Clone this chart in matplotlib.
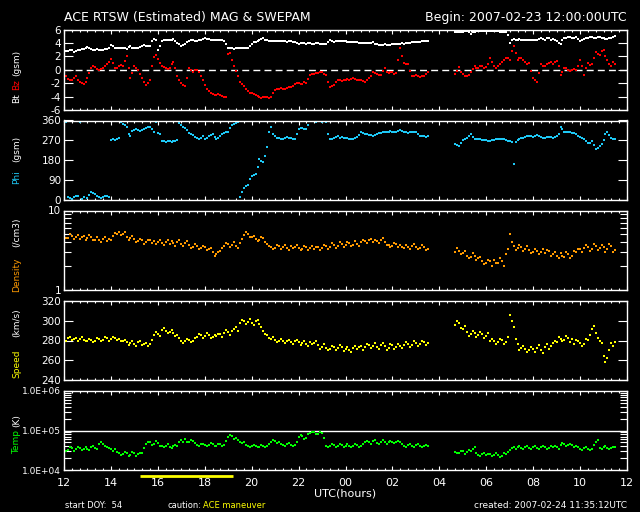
import numpy as np
import matplotlib
matplotlib.use('Agg')
import matplotlib.pyplot as plt
from matplotlib.ticker import MultipleLocator, FixedLocator, FixedFormatter, NullFormatter
import matplotlib.transforms as mtransforms

plt.rcParams['font.family'] = ['DejaVu Sans']
plt.rcParams['axes.unicode_minus'] = False

nan = np.nan

# samples every 10 min from 2007-02-23 12:00 UTC, plus the in-between 5-min samples
hours = np.arange(142) / 6.0
hours_mid = hours + 1 / 12.0

bt = [2.9, 2.8, 2.9, 2.85, 3.0, 3.1, 3.4, 3.1, 3.0, 3.0, 3.0, 3.1,
      3.7, 3.3, 3.2, 3.3, 3.1, 3.5, 3.2, 3.3, 3.6, 3.6, 3.5, 4.6,
      2.9, 4.3, 4.4, 4.5, 4.6, 4.0, 3.6, 3.9, 4.3, 4.4, 4.3, 4.5,
      4.7, 4.6, 4.4, 4.4, 4.5, 4.3, 3.2, 3.2, 3.2, 3.3, 3.3, 3.3,
      3.9, 4.2, 4.4, 4.7, 4.4, 4.3, 4.3, 4.3, 4.3, 4.2, 4.3, 4.2,
      3.9, 4.0, 3.9, 4.0, 3.9, 4.0, 3.8, 3.9, 4.4, 4.2, 4.3, 4.3,
      4.3, 4.15, 4.15, 4.1, 4.0, 4.0, 4.0, 4.1, 3.8, 3.7, 3.8, 3.7,
      3.8, 3.9, 3.9, 3.9, 4.0, 4.1, 4.2, 4.2, 4.25, 4.3, nan, nan,
      nan, nan, nan, nan, 5.7, 5.6, 5.7, 5.8, 5.4, 5.7, 5.8, 5.8,
      5.75, 5.8, 5.8, 5.75, 5.7, 5.6, 4.0, 4.6, 4.5, 4.5, 4.4, 4.5,
      4.5, 4.4, 4.7, 4.5, 4.8, 4.6, 4.3, 3.8, 4.7, 4.9, 4.8, 4.9,
      4.3, 4.6, 4.8, 4.9, 4.8, 4.9, 4.7, 4.6, 4.8, 5.0]
bt_mid = [2.8, 2.95, 2.7, 2.9, 3.05, 3.2, 3.2, 3.0, 3.05, 2.95, 3.05, 3.3,
          3.5, 3.25, 3.3, 3.2, 3.4, 3.3, 3.25, 3.45, 3.65, 3.5, 4.3, 4.5,
          3.6, 4.4, 4.5, 4.4, 4.3, 3.8, 3.7, 4.2, 4.4, 4.35, 4.4, 4.6,
          4.65, 4.5, 4.45, 4.5, 4.4, 3.9, 3.25, 3.15, 3.25, 3.3, 3.25, 3.6,
          4.1, 4.3, 4.6, 4.5, 4.35, 4.3, 4.25, 4.3, 4.25, 4.25, 4.2, 4.0,
          3.95, 3.95, 3.95, 3.9, 4.0, 3.9, 3.85, 4.2, 4.3, 4.25, 4.3, 4.35,
          4.2, 4.1, 4.2, 4.05, 3.95, 4.05, 4.05, 3.9, 3.75, 3.75, 3.75, 3.7,
          3.85, 3.85, 3.95, 3.95, 4.05, 4.15, 4.15, 4.25, 4.3, nan, nan, nan,
          nan, nan, nan, nan, 5.65, 5.7, 5.75, 5.6, 5.6, 5.75, 5.8, 5.75,
          5.8, 5.75, 5.85, 5.7, 5.65, 5.2, 4.4, 4.5, 4.55, 4.45, 4.5, 4.45,
          4.4, 4.6, 4.6, 4.7, 4.5, 4.4, 4.0, 4.4, 4.8, 4.85, 4.75, 4.6,
          4.5, 4.7, 4.85, 4.75, 4.85, 4.8, 4.65, 4.7, 4.9, nan]

bz = [-0.3, -1.4, -1.5, -1.0, -1.8, -2.1, -1.3, 0.3, 0.4, 0.0, 0.2, 0.8,
      1.6, 0.2, 0.5, 0.6, 2.1, -1.2, 0.5, 0.0, -1.3, -2.2, -1.5, 1.9,
      1.6, 0.5, 0.2, 0.3, 1.2, -1.0, -2.0, -2.4, 0.3, -0.3, 0.0, -1.0,
      -2.2, -3.2, -3.6, -3.7, -3.7, -4.0, 2.3, 1.5, -0.2, -1.8, -2.4, -3.2,
      -3.5, -3.7, -4.1, -4.1, -4.1, -4.0, -3.0, -2.8, -2.8, -2.7, -2.6, -2.1,
      -2.0, -2.1, -2.0, -0.8, -0.6, -0.5, -0.3, -0.8, -2.5, -2.3, -1.5, -1.7,
      -1.5, -1.5, -1.3, -1.5, -1.6, -1.8, -1.3, -0.3, -0.7, -0.8, 0.3, -0.5,
      -0.3, -0.5, 3.3, 1.0, 0.8, -0.9, -0.8, -1.1, -0.9, -0.4, nan, nan,
      nan, nan, nan, nan, -0.6, 0.4, -0.7, -1.0, -0.3, 0.5, 0.2, 0.6,
      0.4, 1.8, 0.5, 0.5, 1.2, 1.8, 1.5, 3.5, 1.5, 1.7, 1.1, 1.0,
      -1.3, -1.8, 0.8, 0.5, 1.0, 0.8, 1.3, -0.8, 0.2, 0.0, -0.1, 0.0,
      1.5, -0.8, 1.0, 0.8, 2.6, 2.2, 3.0, 1.5, 0.5, 0.9]
bz_mid = [-0.9, -1.6, -1.2, -1.5, -2.0, -1.9, -0.5, 0.5, 0.1, 0.1, 0.5, 1.2,
          1.0, 0.3, 0.7, 1.3, 0.3, -0.5, 0.3, -0.6, -1.8, -2.0, 0.5, 2.2,
          1.0, 0.4, 0.1, 0.8, 0.2, -1.6, -2.2, -1.2, 0.0, -0.1, -0.4, -1.6,
          -2.8, -3.4, -3.7, -3.6, -3.9, -4.1, 2.5, 0.5, -1.0, -2.1, -2.8, -3.4,
          -3.6, -3.9, -4.2, -4.0, -4.2, -3.5, -2.9, -2.7, -2.9, -2.6, -2.4, -2.0,
          -2.1, -1.9, -1.4, -0.7, -0.5, -0.4, -0.6, -1.8, -2.4, -1.9, -1.6, -1.6,
          -1.4, -1.4, -1.4, -1.6, -1.7, -1.6, -0.9, -0.5, -0.8, -0.2, -0.4, -0.4,
          -0.6, 1.5, 2.0, 0.8, -0.2, -1.0, -0.9, -1.0, -0.7, nan, nan, nan,
          nan, nan, nan, nan, -0.2, -0.3, -0.9, -0.8, 0.1, 0.3, 0.5, 0.3,
          0.9, 1.2, 0.3, 0.8, 1.5, 1.7, 2.8, 2.5, 1.8, 1.4, 0.9, -0.2,
          -1.6, -0.5, 0.6, 0.8, 1.1, 1.1, 0.6, -0.3, 0.3, -0.2, 0.1, 0.5,
          0.5, 0.2, 0.7, 1.8, 2.4, 2.8, 2.0, 0.8, 1.2, nan]

phi = [10, 15, 5, 18, 355, 12, 8, 38, 25, 15, 12, 18,
       270, 272, 280, 345, 330, 290, 315, 318, 316, 328, 332, 310,
       305, 265, 262, 268, 265, 270, 340, 325, 305, 295, 280, 282,
       278, 290, 300, 275, 290, 305, 310, 340, 348, 12, 55, 68,
       110, 120, 185, 170, 240, 330, 290, 280, 278, 285, 280, 275,
       320, 328, 320, 358, 356, 357, 354, 355, 275, 280, 290, 285,
       282, 278, 275, 285, 307, 300, 295, 290, 300, 305, 308, 310,
       310, 308, 315, 308, 305, 310, 307, 292, 288, 290, nan, nan,
       nan, nan, nan, nan, 255, 245, 270, 282, 300, 275, 275, 273,
       270, 268, 272, 277, 277, 272, 265, 165, 270, 280, 285, 290,
       285, 295, 285, 282, 285, 282, 290, 330, 310, 307, 305, 300,
       285, 275, 260, 265, 230, 245, 270, 310, 280, 278]
phi_mid = [355, 8, 12, 20, 3, 358, 22, 30, 20, 10, 20, 14,
           275, 278, 355, 338, 300, 312, 320, 314, 322, 330, 320, 355,
           300, 268, 266, 263, 268, 350, 330, 315, 300, 285, 276, 290,
           282, 295, 285, 282, 300, 308, 325, 345, 355, 35, 62, 95,
           115, 150, 175, 200, 310, 300, 282, 276, 283, 280, 278, 300,
           325, 322, 340, 357, 355, 358, 356, 300, 278, 285, 283, 280,
           280, 276, 280, 295, 303, 298, 293, 296, 303, 306, 309, 312,
           309, 312, 311, 306, 308, 309, 300, 290, 287, nan, nan, nan,
           nan, nan, nan, nan, 250, 258, 276, 290, 285, 275, 274, 272,
           269, 270, 275, 276, 275, 268, 262, 262, 275, 283, 288, 288,
           290, 290, 283, 284, 284, 286, 300, 320, 308, 306, 302, 292,
           280, 268, 258, 250, 236, 255, 300, 295, 276, nan]

density = [4.9, 4.5, 4.8, 4.6, 4.4, 4.8, 4.5, 4.7, 4.3, 4.2, 4.4, 4.1,
           4.3, 5.2, 5.3, 5.0, 4.6, 4.5, 4.4, 4.1, 4.2, 4.0, 4.2, 4.1,
           4.0, 3.9, 4.0, 3.8, 3.9, 4.0, 3.8, 3.9, 3.7, 3.5, 3.6, 3.4,
           3.5, 3.3, 3.0, 2.8, 3.1, 3.6, 3.8, 3.7, 3.6, 3.9, 4.9, 5.1,
           4.6, 4.4, 4.3, 4.5, 3.8, 3.5, 3.4, 3.6, 3.5, 3.4, 3.6, 3.5,
           3.4, 3.3, 3.5, 3.4, 3.3, 3.5, 3.4, 3.6, 3.5, 3.7, 3.6, 3.8,
           3.7, 3.9, 3.7, 3.8, 4.0, 4.1, 4.2, 4.0, 4.1, 4.3, 4.0, 3.7,
           3.6, 3.8, 3.7, 3.4, 3.5, 3.6, 3.5, 3.4, 3.5, 3.3, nan, nan,
           nan, nan, nan, nan, 3.0, 3.1, 2.9, 2.7, 2.6, 2.7, 2.5, 2.3,
           2.2, 2.3, 2.4, 2.2, 2.3, 2.8, 5.0, 3.6, 3.4, 3.5, 3.3, 3.2,
           3.0, 3.1, 3.0, 2.9, 3.1, 2.8, 2.7, 2.9, 2.6, 2.8, 2.7, 3.0,
           3.3, 3.4, 3.5, 3.3, 3.6, 3.4, 3.5, 3.3, 3.6, 3.2]
density_mid = [4.5, 5.0, 4.4, 4.9, 4.7, 4.3, 4.9, 4.2, 4.6, 4.0, 4.6, 4.4,
               4.8, 5.0, 4.9, 5.4, 4.2, 4.8, 4.0, 4.4, 3.8, 4.3, 3.9, 3.8,
               4.2, 3.7, 4.2, 4.1, 3.6, 4.3, 3.6, 4.1, 3.4, 3.8, 3.3, 3.6,
               3.2, 3.4, 2.7, 3.0, 3.4, 3.9, 3.5, 4.0, 3.4, 4.4, 5.4, 4.6,
               4.8, 4.1, 4.7, 4.0, 3.6, 3.3, 3.7, 3.3, 3.7, 3.2, 3.4, 3.7,
               3.2, 3.6, 3.2, 3.6, 3.5, 3.2, 3.7, 3.3, 3.9, 3.4, 4.0, 3.5,
               4.0, 3.6, 4.1, 3.6, 4.3, 3.9, 4.4, 4.2, 3.9, 4.5, 3.7, 3.5,
               3.9, 3.5, 3.5, 3.7, 3.3, 3.8, 3.3, 3.7, 3.2, nan, nan, nan,
               nan, nan, nan, nan, 3.4, 2.8, 3.1, 2.5, 2.9, 2.4, 2.6, 2.1,
               2.4, 2.0, 2.2, 2.5, 2.0, 3.3, 4.0, 3.2, 3.7, 3.1, 3.6, 2.9,
               3.3, 2.8, 3.3, 3.2, 2.7, 3.0, 2.5, 2.7, 3.0, 2.5, 3.1, 3.3,
               3.0, 3.7, 3.1, 3.8, 3.2, 3.7, 3.0, 3.8, 3.0, nan]

speed = [282, 283, 281, 283, 282, 281, 279, 281, 280, 282, 281, 283,
         282, 283, 282, 280, 278, 277, 276, 278, 275, 277, 276, 286,
         287, 291, 290, 289, 288, 286, 280, 279, 281, 280, 284, 286,
         285, 286, 284, 285, 287, 288, 289, 290, 294, 298, 300, 299,
         298, 300, 297, 290, 286, 282, 281, 280, 279, 280, 278, 279,
         278, 277, 276, 278, 277, 275, 273, 272, 271, 273, 272, 273,
         271, 270, 272, 271, 274, 273, 275, 274, 273, 275, 274, 272,
         275, 273, 274, 275, 276, 275, 277, 276, 278, 277, nan, nan,
         nan, nan, nan, nan, 296, 298, 292, 289, 287, 288, 286, 287,
         285, 280, 279, 278, 281, 278, 306, 294, 276, 272, 271, 270,
         271, 272, 270, 273, 271, 277, 278, 282, 281, 283, 282, 281,
         277, 276, 281, 292, 288, 280, 264, 262, 277, 278]
speed_mid = [280, 284, 282, 279, 284, 280, 282, 278, 283, 279, 284, 280,
             284, 281, 279, 281, 275, 279, 274, 280, 276, 274, 281, 289,
             285, 293, 288, 291, 285, 283, 277, 282, 278, 283, 287, 283,
             288, 283, 286, 287, 284, 291, 286, 292, 290, 301, 297, 302,
             296, 301, 294, 287, 283, 284, 278, 282, 277, 281, 276, 281,
             275, 279, 274, 276, 279, 271, 276, 270, 274, 270, 275, 269,
             273, 268, 274, 273, 270, 276, 272, 277, 271, 277, 270, 276,
             271, 276, 272, 278, 273, 279, 274, 280, 275, nan, nan, nan,
             nan, nan, nan, nan, 300, 293, 295, 285, 290, 284, 289, 283,
             288, 282, 276, 282, 276, 284, 300, 282, 270, 274, 268, 273,
             268, 275, 267, 276, 274, 279, 284, 279, 285, 278, 276, 279,
             274, 282, 286, 295, 283, 277, 258, 270, 274, nan]

temp_log10 = [4.54, 4.50, 4.56, 4.52, 4.55, 4.53, 4.54, 4.58, 4.56, 4.67, 4.66, 4.58,
              4.54, 4.52, 4.42, 4.40, 4.44, 4.38, 4.43, 4.41, 4.42, 4.67, 4.70, 4.66,
              4.68, 4.60, 4.62, 4.59, 4.61, 4.60, 4.75, 4.78, 4.72, 4.74, 4.64, 4.65,
              4.63, 4.64, 4.66, 4.62, 4.65, 4.64, 4.83, 4.86, 4.80, 4.71, 4.72, 4.61,
              4.60, 4.62, 4.59, 4.61, 4.62, 4.72, 4.74, 4.70, 4.64, 4.65, 4.63, 4.64,
              4.83, 4.85, 4.82, 4.93, 4.95, 4.92, 4.94, 4.62, 4.60, 4.63, 4.61, 4.64,
              4.62, 4.62, 4.60, 4.63, 4.62, 4.71, 4.70, 4.73, 4.69, 4.72, 4.70, 4.71,
              4.72, 4.70, 4.71, 4.62, 4.64, 4.60, 4.63, 4.61, 4.62, 4.60, nan, nan,
              nan, nan, nan, nan, 4.46, 4.44, 4.48, 4.45, 4.47, 4.58, 4.39, 4.41,
              4.37, 4.40, 4.38, 4.39, 4.36, 4.40, 4.50, 4.57, 4.58, 4.56, 4.57, 4.55,
              4.57, 4.56, 4.58, 4.57, 4.55, 4.58, 4.57, 4.64, 4.65, 4.63, 4.64, 4.62,
              4.54, 4.55, 4.53, 4.54, 4.71, 4.56, 4.57, 4.55, 4.56, 4.57]
temp_log10_mid = [4.48, 4.57, 4.49, 4.58, 4.50, 4.57, 4.51, 4.62, 4.53, 4.70, 4.60, 4.55,
                  4.49, 4.45, 4.37, 4.45, 4.36, 4.46, 4.35, 4.44, 4.55, 4.72, 4.63, 4.74,
                  4.62, 4.58, 4.65, 4.56, 4.64, 4.70, 4.72, 4.70, 4.77, 4.68, 4.61, 4.67,
                  4.60, 4.68, 4.61, 4.66, 4.61, 4.74, 4.89, 4.78, 4.75, 4.68, 4.64, 4.58,
                  4.64, 4.58, 4.63, 4.58, 4.67, 4.76, 4.68, 4.66, 4.61, 4.68, 4.60, 4.72,
                  4.88, 4.79, 4.90, 4.97, 4.90, 4.96, 4.80, 4.58, 4.65, 4.58, 4.66, 4.59,
                  4.65, 4.58, 4.66, 4.59, 4.67, 4.74, 4.67, 4.75, 4.67, 4.75, 4.67, 4.74,
                  4.68, 4.74, 4.66, 4.59, 4.66, 4.57, 4.65, 4.58, 4.64, nan, nan, nan,
                  nan, nan, nan, nan, 4.42, 4.49, 4.41, 4.50, 4.52, 4.43, 4.36, 4.44,
                  4.40, 4.35, 4.42, 4.34, 4.43, 4.45, 4.55, 4.53, 4.61, 4.53, 4.60, 4.52,
                  4.60, 4.53, 4.61, 4.54, 4.60, 4.62, 4.53, 4.68, 4.60, 4.67, 4.59, 4.57,
                  4.50, 4.58, 4.50, 4.64, 4.76, 4.53, 4.60, 4.52, 4.59, nan]
temp = 10.0 ** np.array(temp_log10)
temp_mid = 10.0 ** np.array(temp_log10_mid)

x_ticks = list(range(0, 25, 2))
x_labels = ['12', '14', '16', '18', '20', '22', '00', '02', '04', '06', '08', '10', '12']
maneuver = [3.25, 7.2]   # hours, yellow bar under the axis

fig = plt.figure(figsize=(6.4, 5.12), dpi=100, facecolor='black')
W, H = 640.0, 512.0
left, right = 64, 627
panels = [(29.5, 110), (120.5, 200), (210.5, 290), (301, 380), (391, 470)]

axes = []
for top, bot in panels:
    ax = fig.add_axes([left / W, 1 - bot / H, (right - left) / W, (bot - top) / H])
    ax.set_facecolor('black')
    for s in ax.spines.values():
        s.set_color('white')
        s.set_linewidth(1.0)
    ax.set_xlim(0, 24)
    ax.xaxis.set_major_locator(FixedLocator(x_ticks))
    ax.xaxis.set_minor_locator(MultipleLocator(1 / 3))
    ax.tick_params(axis='both', which='both', direction='in', colors='white',
                   top=True, right=True, labelsize=7.5, width=0.8)
    ax.tick_params(axis='x', which='major', length=3.0, labelbottom=False)
    ax.tick_params(axis='x', which='minor', length=1.5)
    ax.tick_params(axis='y', which='major', length=6.3, pad=2)
    ax.tick_params(axis='y', which='minor', length=5.0)
    axes.append(ax)

ax1, ax2, ax3, ax4, ax5 = axes
mk = dict(ls='none', marker='s', ms=1.6, mew=0)


def dots(ax, a, b, color):
    ax.plot(hours, a, color=color, **mk)
    ax.plot(hours_mid, b, color=color, **mk)


# Bt / Bz
ax1.axhline(0, color='white', lw=1.0, dashes=(5, 3))
dots(ax1, bt, bt_mid, 'white')
dots(ax1, bz, bz_mid, '#ff0000')
ax1.set_ylim(-6, 6)
ax1.yaxis.set_major_locator(MultipleLocator(2))

# Phi
dots(ax2, phi, phi_mid, '#1ec8f5')
ax2.set_ylim(0, 360)
ax2.yaxis.set_major_locator(FixedLocator([0, 90, 180, 270, 360]))

# Density
ax3.set_yscale('log')
dots(ax3, density, density_mid, '#ff9a00')
ax3.set_ylim(1, 10)
ax3.yaxis.set_major_locator(FixedLocator([1, 10]))
ax3.yaxis.set_major_formatter(FixedFormatter(['1', '10']))
ax3.yaxis.set_minor_locator(FixedLocator(list(range(2, 10))))
ax3.yaxis.set_minor_formatter(NullFormatter())

# Speed
dots(ax4, speed, speed_mid, '#ffff00')
ax4.set_ylim(240, 320)
ax4.yaxis.set_major_locator(MultipleLocator(20))

# Temp
ax5.set_yscale('log')
ax5.axhline(1e5, color='white', lw=1.0)
dots(ax5, temp, temp_mid, '#00ff00')
ax5.set_ylim(1e4, 1e6)
ax5.yaxis.set_major_locator(FixedLocator([1e4, 1e5, 1e6]))
ax5.yaxis.set_major_formatter(FixedFormatter(['1.0E+04', '1.0E+05', '1.0E+06']))
ax5.yaxis.set_minor_locator(FixedLocator([k * 1e4 for k in range(2, 10)] +
                                         [k * 1e5 for k in range(2, 10)]))
ax5.yaxis.set_minor_formatter(NullFormatter())
ax5.tick_params(axis='y', which='major', labelsize=6.5)

ax5.xaxis.set_major_formatter(FixedFormatter(x_labels))
ax5.tick_params(axis='x', which='major', labelbottom=True, labelsize=8, pad=5.5)

trans = mtransforms.blended_transform_factory(ax5.transData, ax5.transAxes)
ax5.plot(maneuver, [-0.075, -0.075], color='#ffff00', lw=2.0,
         transform=trans, clip_on=False, solid_capstyle='butt')


def ftext(px, py, s, color='white', size=7.5, **kw):
    fig.text(px / W, 1 - py / H, s, color=color, fontsize=size, **kw)


# y-axis labels (rotated, multi-coloured)
ylab = dict(rotation=90, ha='center', va='center', size=6.5)
ftext(17, 98.5, 'Bt', **ylab)
ftext(17, 85, 'Bz', color='#ff0000', **ylab)
ftext(17, 63, '(gsm)', **ylab)
ftext(17, 177.5, 'Phi', color='#1ec8f5', **ylab)
ftext(17, 149, '(gsm)', **ylab)
ftext(17, 274.5, 'Density', color='#ff9a00', **ylab)
ftext(17, 232, '(/cm3)', **ylab)
ftext(17, 364, 'Speed', color='#ffff00', **ylab)
ftext(17, 322.5, '(km/s)', **ylab)
ftext(17, 442, 'Temp', color='#00ff00', **ylab)
ftext(17, 421, '(K)', **ylab)

# titles and footer
ftext(64, 18, 'ACE RTSW (Estimated) MAG & SWEPAM', size=9, ha='left', va='center')
ftext(627, 18, 'Begin: 2007-02-23 12:00:00UTC', size=9, ha='right', va='center')
ftext(345.5, 494, 'UTC(hours)', size=8, ha='center', va='center')
ftext(65, 505, 'start DOY:  54', size=6, ha='left', va='center')
ftext(167, 505, 'caution:', size=6, ha='left', va='center')
ftext(203, 505, 'ACE maneuver', color='#ffff00', size=6, ha='left', va='center')
ftext(627, 505, 'created: 2007-02-24 11:35:12UTC', size=6.5, ha='right', va='center')

fig.savefig('out.png', dpi=100, facecolor='black')
